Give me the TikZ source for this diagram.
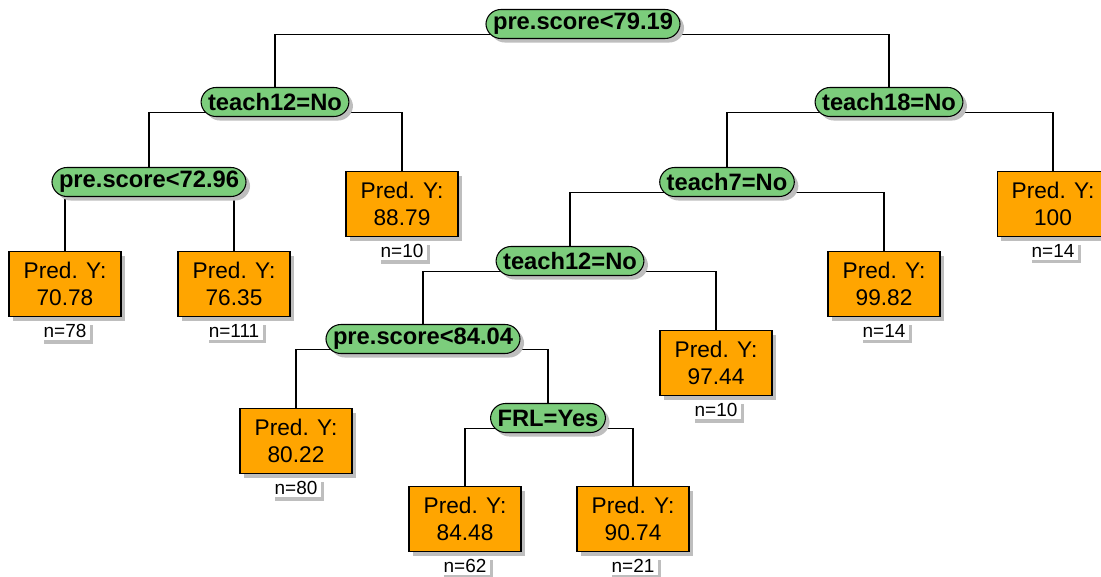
\documentclass[tikz,border=0pt]{standalone}
\usepackage{fontspec}
\setmainfont{Liberation Sans}
\usetikzlibrary{positioning,shadows,backgrounds}
\definecolor{splitgreen}{HTML}{7CCD7C}
\definecolor{leaforange}{HTML}{FFA500}
\definecolor{shadowgray}{HTML}{BEBEBE}

\begin{document}
\begin{tikzpicture}[
    x=0.02cm, y=-0.02cm,
    split/.style={rectangle, rounded corners=8.5pt, draw=black, fill=splitgreen, line width=0.6pt, minimum height=0.58cm, inner xsep=4pt, inner ysep=1pt, font=\fontsize{13.5}{15}\selectfont\bfseries, drop shadow={shadow xshift=2.3pt, shadow yshift=-2.3pt, fill=shadowgray, opacity=1}},
    leaf/.style={rectangle, draw=black, fill=leaforange, line width=0.6pt, align=center, minimum width=2.24cm, minimum height=1.3cm, inner sep=2pt, font=\fontsize{12.9}{15.5}\selectfont, drop shadow={shadow xshift=2.5pt, shadow yshift=-2.5pt, fill=shadowgray, opacity=1}},
    count/.style={rectangle, fill=white, inner xsep=2pt, inner ysep=1.5pt, font=\fontsize{10.8}{12}\selectfont, drop shadow={shadow xshift=2pt, shadow yshift=-2pt, fill=shadowgray, opacity=1}},
    link/.style={draw=black, line width=0.6pt}
  ]
    \useasboundingbox (0,0) rectangle (1101,577);

    % splits
    \node[split] (root) at (583,24) {pre.score<79.19};
    \node[split] (t12a) at (275,102) {teach12=No};
    \node[split] (t18) at (889,102) {teach18=No};
    \node[split] (ps73) at (149,182) {pre.score<72.96};
    \node[split] (t7) at (727,182) {teach7=No};
    \node[split] (t12b) at (570,261) {teach12=No};
    \node[split] (ps84) at (423,339) {pre.score<84.04};
    \node[split] (frl) at (548,418) {FRL=Yes};

    % leaves
    \node[leaf] (leaf70) at (65,284) {Pred. Y:\\70.78};
    \node[leaf] (leaf76) at (234,284) {Pred. Y:\\76.35};
    \node[leaf] (leaf88) at (402,204) {Pred. Y:\\88.79};
    \node[leaf] (leaf100) at (1053,204) {Pred. Y:\\100};
    \node[leaf] (leaf99) at (884,284) {Pred. Y:\\99.82};
    \node[leaf] (leaf97) at (716,363) {Pred. Y:\\97.44};
    \node[leaf] (leaf80) at (296,441) {Pred. Y:\\80.22};
    \node[leaf] (leaf84) at (465,519) {Pred. Y:\\84.48};
    \node[leaf] (leaf90) at (633,519) {Pred. Y:\\90.74};

    % node sizes
    \node[count, below=0.08cm of leaf70] (n70) {n=78};
    \node[count, below=0.08cm of leaf76] (n76) {n=111};
    \node[count, below=0.08cm of leaf88] (n88) {n=10};
    \node[count, below=0.08cm of leaf100] (n100) {n=14};
    \node[count, below=0.08cm of leaf99] (n99) {n=14};
    \node[count, below=0.08cm of leaf97] (n97) {n=10};
    \node[count, below=0.08cm of leaf80] (n80) {n=80};
    \node[count, below=0.08cm of leaf84] (n84) {n=62};
    \node[count, below=0.08cm of leaf90] (n90) {n=21};

    \begin{scope}[on background layer]
      \draw[link] (t12a.north) |- ([yshift=-0.21cm]root.center);
      \draw[link] (t18.north) |- ([yshift=-0.21cm]root.center);
      \draw[link] (ps73.north) |- ([yshift=-0.21cm]t12a.center);
      \draw[link] (leaf88.north) |- ([yshift=-0.21cm]t12a.center);
      \draw[link] (leaf70.north) |- ([yshift=-0.21cm]ps73.center);
      \draw[link] (leaf76.north) |- ([yshift=-0.21cm]ps73.center);
      \draw[link] (t7.north) |- ([yshift=-0.21cm]t18.center);
      \draw[link] (leaf100.north) |- ([yshift=-0.21cm]t18.center);
      \draw[link] (t12b.north) |- ([yshift=-0.21cm]t7.center);
      \draw[link] (leaf99.north) |- ([yshift=-0.21cm]t7.center);
      \draw[link] (ps84.north) |- ([yshift=-0.21cm]t12b.center);
      \draw[link] (leaf97.north) |- ([yshift=-0.21cm]t12b.center);
      \draw[link] (leaf80.north) |- ([yshift=-0.21cm]ps84.center);
      \draw[link] (frl.north) |- ([yshift=-0.21cm]ps84.center);
      \draw[link] (leaf84.north) |- ([yshift=-0.21cm]frl.center);
      \draw[link] (leaf90.north) |- ([yshift=-0.21cm]frl.center);
    \end{scope}
  \end{tikzpicture}
\end{document}
